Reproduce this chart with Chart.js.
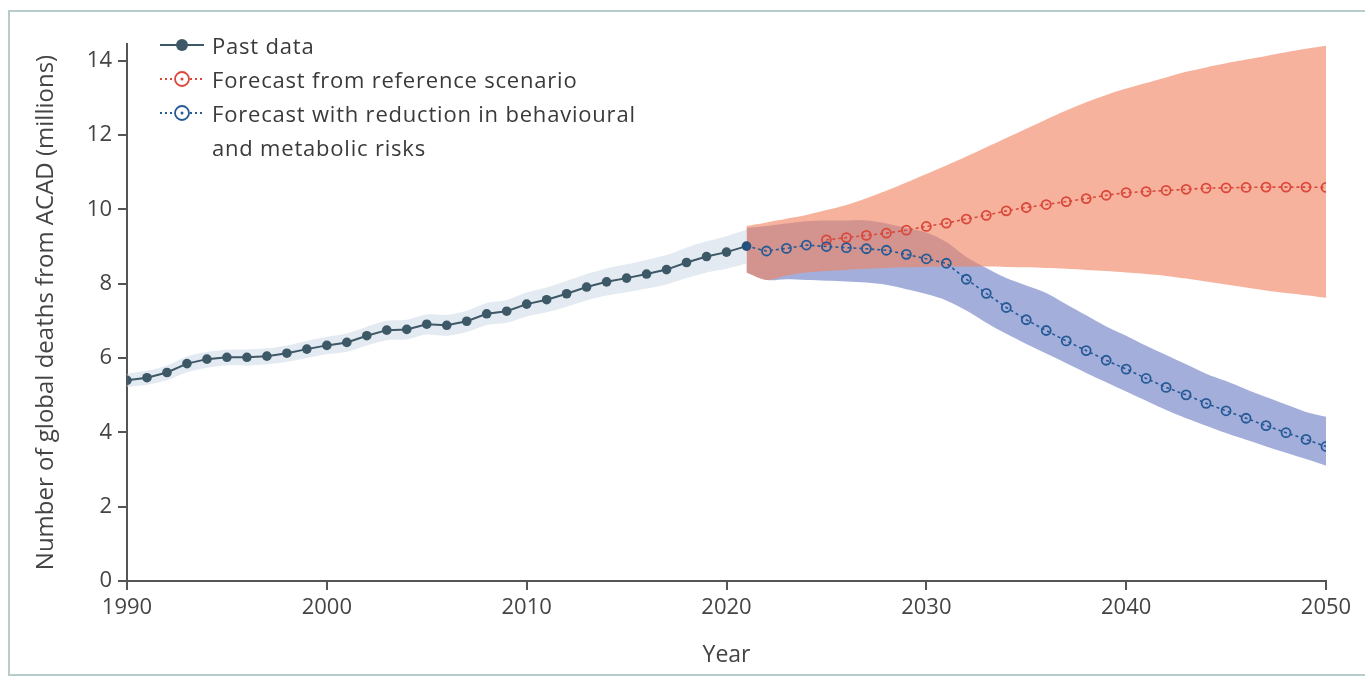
<!DOCTYPE html>
<html>
<head>
<meta charset="utf-8">
<script src="https://cdn.jsdelivr.net/npm/chart.js@4.4.1/dist/chart.umd.min.js"></script>
<style>
  body { margin: 0; background: #fff; font-family: 'Open Sans', sans-serif; }
  #wrap { position: relative; width: 1365px; height: 683px; overflow: hidden; }
  #frame { position: absolute; left: 8px; top: 10px; width: 1400px; height: 662px; border: 2px solid #b8cccc; }
  #chart { position: absolute; left: 0; top: 0; }
  #legend { position: absolute; left: 158px; top: 28px; font-size: 22px; letter-spacing: 0.8px; color: #3a3a3a; line-height: 34px; }
  .item { display: flex; align-items: flex-start; }
  .item svg { flex: none; margin-top: 7px; margin-right: 6px; }
</style>
</head>
<body>
<div id="wrap">
  <div id="frame"></div>
  <canvas id="chart" width="1365" height="683"></canvas>
  <div id="legend">
    <div class="item">
      <svg width="48" height="20"><line x1="2" y1="10" x2="46" y2="10" stroke="#3d5866" stroke-width="2"/><circle cx="24" cy="10" r="6" fill="#3d5866"/></svg>
      <span>Past data</span>
    </div>
    <div class="item">
      <svg width="48" height="20"><line x1="2" y1="10" x2="46" y2="10" stroke="#d9483b" stroke-width="2" stroke-dasharray="2 3"/><circle cx="24" cy="10" r="7" fill="#fff" stroke="#d9483b" stroke-width="1.8"/><circle cx="24" cy="10" r="1.5" fill="#d9483b"/></svg>
      <span>Forecast from reference scenario</span>
    </div>
    <div class="item">
      <svg width="48" height="20"><line x1="2" y1="10" x2="46" y2="10" stroke="#255a96" stroke-width="2" stroke-dasharray="2 3"/><circle cx="24" cy="10" r="7" fill="#fff" stroke="#255a96" stroke-width="1.8"/><circle cx="24" cy="10" r="1.5" fill="#255a96"/></svg>
      <span>Forecast with reduction in behavioural<br>and metabolic risks</span>
    </div>
  </div>
</div>
<script>
// past estimates, 1990-2021
const pastYears = [1990, 1991, 1992, 1993, 1994, 1995, 1996, 1997, 1998, 1999, 2000, 2001, 2002, 2003, 2004, 2005,
                   2006, 2007, 2008, 2009, 2010, 2011, 2012, 2013, 2014, 2015, 2016, 2017, 2018, 2019, 2020, 2021];
const pastDeaths = [5.40, 5.47, 5.61, 5.85, 5.97, 6.02, 6.02, 6.05, 6.13, 6.24, 6.34, 6.42, 6.60, 6.75, 6.77, 6.91,
                    6.88, 6.99, 7.19, 7.26, 7.45, 7.57, 7.73, 7.91, 8.05, 8.15, 8.26, 8.38, 8.57, 8.73, 8.85, 9.01];
const pastLower = [5.22, 5.28, 5.40, 5.62, 5.74, 5.80, 5.80, 5.83, 5.90, 6.00, 6.10, 6.17, 6.34, 6.48, 6.50, 6.63,
                   6.60, 6.70, 6.89, 6.95, 7.12, 7.23, 7.38, 7.55, 7.68, 7.77, 7.87, 7.98, 8.15, 8.30, 8.40, 8.55];
const pastUpper = [5.58, 5.66, 5.80, 6.04, 6.16, 6.22, 6.23, 6.26, 6.34, 6.46, 6.57, 6.66, 6.84, 7.00, 7.03, 7.17,
                   7.16, 7.27, 7.48, 7.56, 7.76, 7.90, 8.07, 8.26, 8.41, 8.52, 8.64, 8.77, 8.97, 9.14, 9.28, 9.45];

// forecasts, 2021-2050
const forecastYears = [2021, 2022, 2023, 2024, 2025, 2026, 2027, 2028, 2029, 2030, 2031, 2032, 2033, 2034, 2035,
                       2036, 2037, 2038, 2039, 2040, 2041, 2042, 2043, 2044, 2045, 2046, 2047, 2048, 2049, 2050];
const referenceDeaths = [null, null, null, null, 9.18, 9.24, 9.30, 9.36, 9.44, 9.54, 9.63, 9.74, 9.84, 9.96, 10.05,
                         10.13, 10.21, 10.29, 10.38, 10.45, 10.48, 10.51, 10.54, 10.57, 10.58, 10.59, 10.60, 10.60, 10.60, 10.59];
const referenceLower = [8.30, 8.10, 8.22, 8.30, 8.34, 8.37, 8.40, 8.42, 8.44, 8.45, 8.46, 8.46, 8.46, 8.45, 8.44,
                        8.42, 8.40, 8.37, 8.34, 8.30, 8.26, 8.21, 8.14, 8.06, 7.98, 7.90, 7.82, 7.75, 7.69, 7.62];
const referenceUpper = [9.55, 9.65, 9.75, 9.85, 9.98, 10.12, 10.30, 10.50, 10.72, 10.95, 11.18, 11.42, 11.67, 11.92, 12.17,
                        12.42, 12.66, 12.88, 13.08, 13.25, 13.40, 13.55, 13.70, 13.82, 13.93, 14.03, 14.13, 14.23, 14.32, 14.40];
const reducedDeaths = [9.01, 8.88, 8.95, 9.04, 9.00, 8.97, 8.94, 8.90, 8.79, 8.67, 8.55, 8.12, 7.74, 7.36, 7.03,
                       6.74, 6.46, 6.20, 5.94, 5.70, 5.45, 5.21, 5.01, 4.78, 4.58, 4.38, 4.18, 3.99, 3.81, 3.62];
const reducedLower = [8.30, 8.10, 8.12, 8.10, 8.08, 8.06, 8.03, 7.97, 7.85, 7.72, 7.55, 7.28, 6.95, 6.65, 6.38,
                      6.12, 5.86, 5.60, 5.35, 5.10, 4.85, 4.60, 4.38, 4.18, 3.98, 3.80, 3.62, 3.45, 3.28, 3.10];
const reducedUpper = [9.50, 9.55, 9.62, 9.68, 9.70, 9.70, 9.70, 9.62, 9.50, 9.38, 9.12, 8.72, 8.42, 8.15, 7.95,
                      7.75, 7.45, 7.15, 6.85, 6.60, 6.33, 6.08, 5.83, 5.58, 5.38, 5.16, 4.95, 4.75, 4.55, 4.42];

const yTicks = [0, 2, 4, 6, 8, 10, 12, 14];
const xTicks = [1990, 2000, 2010, 2020, 2030, 2040, 2050];

const PAST = "#3d5866";
const RED = "#d9483b";
const BLUE = "#255a96";
const AXIS = "#555";

function pts(xs, ys) {
    return xs.map((x, i) => ({ x: x, y: ys[i] }));
}

function band(data, fill, color, order) {
    return { data: data, fill: fill, backgroundColor: color, borderWidth: 0, pointRadius: 0, tension: 0.3, order: order };
}

Chart.defaults.font.family = "'Open Sans', sans-serif";
Chart.defaults.color = "#444";

const ctx = document.getElementById("chart").getContext("2d");
new Chart(ctx, {
    type: "line",
    data: {
        datasets: [
            {
                label: "Forecast with reduction in behavioural and metabolic risks",
                data: pts(forecastYears, reducedDeaths),
                borderColor: BLUE, borderWidth: 1.6, borderDash: [3, 3],
                pointRadius: c => c.dataIndex === 0 ? 0 : 4.5,
                pointBorderColor: BLUE, pointBackgroundColor: "rgba(255,255,255,0)", pointBorderWidth: 1.8,
                fill: false, order: 0
            },
            {
                label: "Forecast from reference scenario",
                data: pts(forecastYears, referenceDeaths),
                borderColor: RED, borderWidth: 1.6, borderDash: [3, 3],
                pointRadius: 4.5,
                pointBorderColor: RED, pointBackgroundColor: "rgba(255,255,255,0)", pointBorderWidth: 1.8,
                fill: false, order: 1
            },
            {
                label: "Past data",
                data: pts(pastYears, pastDeaths),
                borderColor: PAST, borderWidth: 2,
                pointRadius: 4.8, pointBorderWidth: 0,
                pointBackgroundColor: c => c.dataIndex === pastYears.length - 1 ? "#24507a" : PAST,
                fill: false, order: 2
            },
            band(pts(forecastYears, referenceLower), false, "transparent", 4),
            band(pts(forecastYears, referenceUpper), "-1", "rgba(240,130,95,0.62)", 3),
            band(pts(forecastYears, reducedLower), false, "transparent", 6),
            band(pts(forecastYears, reducedUpper), "-1", "rgba(90,108,190,0.55)", 5),
            band(pts(pastYears, pastLower), false, "transparent", 8),
            band(pts(pastYears, pastUpper), "-1", "rgba(200,214,228,0.5)", 7)
        ]
    },
    options: {
        responsive: false,
        animation: false,
        layout: { padding: { left: 27, top: 44, right: 39, bottom: 0 } },
        plugins: { legend: { display: false }, tooltip: { enabled: false } },
        scales: {
            x: {
                type: "linear", min: 1990, max: 2050,
                afterBuildTicks: s => { s.ticks = xTicks.map(v => ({ value: v })); },
                afterFit: s => { s.height = 102; },
                ticks: { color: "#444", font: { size: 22 }, padding: 5, maxRotation: 0, callback: v => String(v) },
                grid: { drawOnChartArea: false, drawTicks: true, tickLength: 9, color: AXIS, lineWidth: 2 },
                border: { display: true, color: AXIS, width: 2 },
                title: { display: true, text: "Year", color: "#444", font: { size: 23 }, padding: { top: 4, bottom: 14 } }
            },
            y: {
                min: 0, max: 14.45,
                afterBuildTicks: s => { s.ticks = yTicks.map(v => ({ value: v })); },
                afterFit: s => { s.width = 100; },
                ticks: { color: "#444", font: { size: 22 }, padding: 6 },
                grid: { drawOnChartArea: false, drawTicks: true, tickLength: 9, color: AXIS, lineWidth: 2 },
                border: { display: true, color: AXIS, width: 2 },
                title: { display: true, text: "Number of global deaths from ACAD (millions)", color: "#444", font: { size: 24 }, padding: { top: 5, bottom: 4 } }
            }
        }
    }
});
</script>
</body>
</html>
